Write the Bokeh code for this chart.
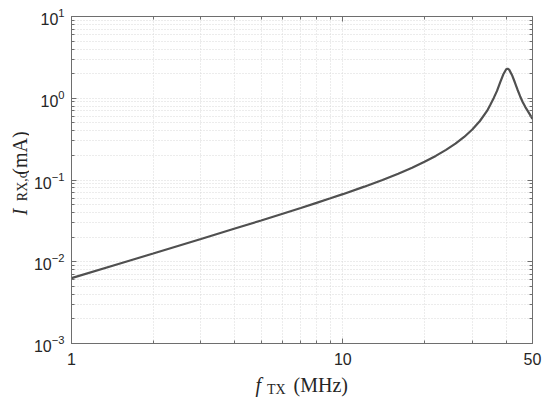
import numpy as np
from bokeh.plotting import figure
from bokeh.layouts import row, column
from bokeh.models import FixedTicker, LogAxis, BasicTickFormatter, Range1d, CustomJSTickFormatter
from bokeh.core.properties import value
from bokeh.embed import file_html
from bokeh.resources import INLINE

# ---- data ----
freq_mhz = [1, 1.5, 2, 3, 4, 5, 6, 7, 8, 9, 10, 12, 14, 16, 18, 20, 22, 24, 26, 28,
            30, 32, 34, 35, 36, 37, 38, 39, 40, 40.5, 41, 42, 43, 44, 45, 46, 47, 48, 49, 50]
current_ma = [0.0063, 0.00945, 0.0126, 0.019, 0.0255, 0.032, 0.0387, 0.0455, 0.0525, 0.0597,
              0.0671, 0.0829, 0.1002, 0.1195, 0.1415, 0.1669, 0.197, 0.2337, 0.278, 0.336,
              0.415, 0.527, 0.70, 0.84, 1.01, 1.23, 1.56, 1.95, 2.26, 2.30, 2.24, 1.93, 1.58,
              1.28, 1.06, 0.90, 0.785, 0.70, 0.625, 0.56]

x_major_ticks = [1, 10, 50]
x_minor_ticks = [2, 3, 4, 5, 6, 7, 8, 9, 20, 30, 40]
y_major_ticks = [1e-3, 1e-2, 1e-1, 1, 10]
y_minor_ticks = [k * 10.0 ** e for e in range(-3, 1) for k in range(2, 10)]

AX = "#262626"
GRID = "#d9d9d9"
SERIF = "Liberation Serif"

W, H = 550, 402
YLAB_W = 29
MAIN_H = 370

p = figure(x_axis_type="log", y_axis_type="log",
           x_range=Range1d(1, 50), y_range=Range1d(1e-3, 10),
           frame_width=461, frame_height=327,
           min_border_left=42, min_border_right=18, min_border_top=16, min_border_bottom=27,
           output_backend="svg", toolbar_location=None)
p.background_fill_color = "white"
p.border_fill_color = "white"
p.outline_line_color = "#6e6e6e"
p.outline_line_width = 1

p.line(freq_mhz, current_ma, line_color="#505050", line_width=2.2)

xt = FixedTicker(ticks=x_major_ticks, minor_ticks=x_minor_ticks)
yt = FixedTicker(ticks=y_major_ticks, minor_ticks=y_minor_ticks)

def style_axis(ax, ticker, labels=True):
    ax.ticker = ticker
    ax.axis_line_color = "#6e6e6e"
    ax.major_tick_line_color = "#6e6e6e"
    ax.minor_tick_line_color = "#6e6e6e"
    ax.major_tick_in = 5
    ax.major_tick_out = 0
    ax.minor_tick_in = 3
    ax.minor_tick_out = 0
    ax.major_label_text_font = "Liberation Sans"
    ax.major_label_text_font_size = "16px"
    ax.major_label_text_color = AX
    if not labels:
        ax.formatter = CustomJSTickFormatter(code="return ''")
        ax.major_label_standoff = 0
        ax.axis_line_color = None

xa = p.xaxis[0]
style_axis(xa, xt)
xa.formatter = BasicTickFormatter(use_scientific=False)
xa.major_label_standoff = 9
ya = p.yaxis[0]
style_axis(ya, yt)
ya.major_label_standoff = 7

ra = LogAxis()
style_axis(ra, yt, labels=False)
p.add_layout(ra, "right")
ta = LogAxis()
style_axis(ta, xt, labels=False)
p.add_layout(ta, "above")

for g in (p.xgrid[0], p.ygrid[0]):
    g.grid_line_color = GRID
    g.grid_line_dash = "1 2"
    g.grid_line_width = 1
    g.minor_grid_line_color = GRID
    g.minor_grid_line_dash = "1 2"
    g.minor_grid_line_width = 1
p.xgrid[0].ticker = xt
p.ygrid[0].ticker = yt


def text_panel(w, h):
    f = figure(width=w, height=h, x_range=Range1d(0, w), y_range=Range1d(0, h),
               min_border=0, x_axis_location=None, y_axis_location=None,
               output_backend="svg", toolbar_location=None)
    f.grid.visible = False
    f.outline_line_color = None
    f.background_fill_color = "white"
    f.border_fill_color = "white"
    return f

def put(f, text, x, y, size, style="normal", angle=0.0):
    f.text(x=[x], y=[y], text=[text], angle=angle,
           text_font=value(SERIF), text_font_size=size, text_font_style=style,
           text_color=AX, text_align="left", text_baseline="alphabetic")

# y label panel (left strip): I_RX,c (mA), rotated
ylab = text_panel(YLAB_W, MAIN_H)
put(ylab, "I", 19.5, MAIN_H - 225, "20px", "italic", np.pi / 2)
put(ylab, "RX,c", 22, MAIN_H - 209, "14px", "normal", np.pi / 2)
put(ylab, "(mA)", 19.5, MAIN_H - 179, "20px", "normal", np.pi / 2)

# x label panel (bottom strip): f_TX (MHz)
XLAB_H = H - MAIN_H
xlab = text_panel(W, XLAB_H)
put(xlab, "f", 255, H - 384.5, "20px", "italic")
put(xlab, "TX", 266.5, H - 388.5, "14px")
put(xlab, "(MHz)", 293, H - 384.5, "20px")

layout = column(row(ylab, p, spacing=0), xlab, spacing=0)

open("out.html", "w").write(file_html(layout, INLINE))
